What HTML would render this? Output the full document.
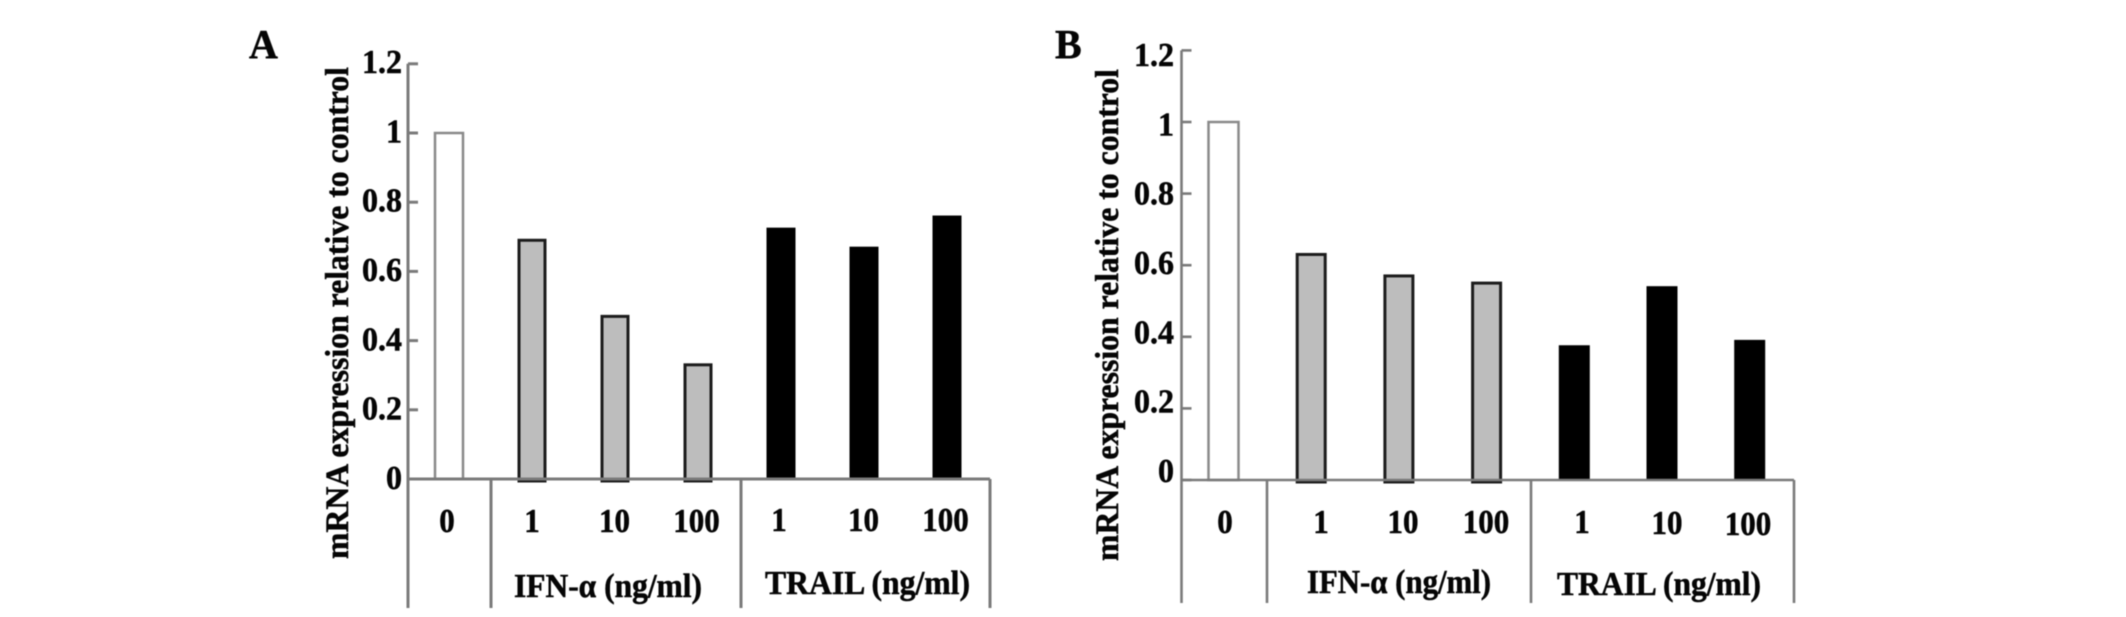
<!DOCTYPE html>
<html lang="en">
<head>
<meta charset="utf-8">
<title>mRNA expression relative to control</title>
<style>
html,body{margin:0;padding:0;background:#fff;width:2126px;height:617px;overflow:hidden}
svg{display:block;filter:blur(0.55px)}
text{font-family:"Liberation Serif",serif;font-weight:700;fill:#050505;stroke:#050505;stroke-width:0.5px}
</style>
</head>
<body>
<svg id="figure" xmlns="http://www.w3.org/2000/svg" width="2126" height="617" viewBox="0 0 2126 617"></svg>
<script>
const categories = ["0", "1", "10", "100", "1", "10", "100"];
const seriesA = [1, 0.69, 0.47, 0.33, 0.725, 0.67, 0.76];
const seriesB = [1, 0.63, 0.57, 0.55, 0.375, 0.54, 0.39];
const barKinds = ["control", "ifn", "ifn", "ifn", "trail", "trail", "trail"];
const yTicks = [0, 0.2, 0.4, 0.6, 0.8, 1, 1.2];
const yTickLabels = ["0", "0.2", "0.4", "0.6", "0.8", "1", "1.2"];
const groupLabels = ["IFN-α (ng/ml)", "TRAIL (ng/ml)"];
const yTitle = "mRNA expression relative to control";

const NS = "http://www.w3.org/2000/svg";
const root = document.getElementById("figure");

function make(tag, parent, attrs) {
  const el = document.createElementNS(NS, tag);
  for (const k in attrs) el.setAttribute(k, attrs[k]);
  parent.appendChild(el);
  return el;
}

function label(parent, str, x, y, size, anchor, length, stretch) {
  const el = make("text", parent, {
    "transform": "translate(" + x + " " + y + ") scale(1 " + stretch + ")",
    "font-size": size,
    "text-anchor": anchor
  });
  if (length) {
    el.setAttribute("textLength", length);
    el.setAttribute("lengthAdjust", "spacingAndGlyphs");
  }
  el.textContent = str;
  return el;
}

function drawPanel(p, values) {
  const g = make("g", root, {});
  
  

  const y = v => p.zeroY - v * p.unit;
  const x = i => p.x0 + i * p.step;
  const labelY = v => p.labelZero - v * 346.7;

  const letter = label(g, p.letter, p.letterX, 58, 40, "start", 0, 1.04);
  
  

  const title = make("text", g, {
    "transform": "translate(" + p.titleX + " " + p.titleBottom + ") rotate(-90)",
    "font-size": 33,
    "textLength": p.titleLen,
    "lengthAdjust": "spacingAndGlyphs"
  });
  title.textContent = yTitle;
  
  

  values.forEach((v, i) => {
    const kind = barKinds[i];
    const isGray = kind === "ifn";
    const isBlack = kind === "trail";
    const w = isGray ? p.barW - 2 : p.barW;
    const bar = make("rect", g, {
      x: x(i) - w / 2,
      y: y(v),
      width: w,
      height: y(0) - y(v) + (isGray ? 2 : 0),
      fill: isBlack ? "#000" : (isGray ? "#bdbdbd" : "#fff"),
      stroke: isBlack ? "#000" : (isGray ? "#1c1c1c" : "#8a8a8a"),
      "stroke-width": isBlack ? 1 : (isGray ? 3 : 2.5)
    });
    
    
  });

  const axisAttrs = { stroke: "#7a7a7a", "stroke-width": p.axisW, fill: "none" };
  const yAxis = make("path", g, Object.assign({ d: "M" + p.axisX + " " + y(1.2) + "V" + p.bottom }, axisAttrs));
  
  

  const xAxis = make("path", g, Object.assign({ d: "M" + p.axisX + " " + y(0) + "H" + p.right }, axisAttrs));
  
  

  [p.div1, p.div2, p.right].forEach((dx, i) => {
    const d = make("path", g, Object.assign({ d: "M" + dx + " " + y(0) + "V" + p.bottom }, axisAttrs));
    
    
  });

  yTicks.forEach((t, i) => {
    const tick = make("path", g, Object.assign({ d: "M" + p.axisX + " " + y(t) + "h10" }, axisAttrs));
    
    
    const tl = label(g, yTickLabels[i], p.tickRight, labelY(t), 32, "end", 0, 1.06);
    
    
  });

  categories.forEach((c, i) => {
    const cl = label(g, c, x(i) + p.catDx[i], p.catY[i], 31, "middle", 0, 1.1);
    
    
  });

  groupLabels.forEach((s, i) => {
    const gl = label(g, s, p.groupX[i], p.groupY[i], 31, "start", p.groupLen[i], 1.08);
    
    
  });
}

drawPanel({
  id: "a", letter: "A", letterX: 249, titleX: 348, titleBottom: 559, titleLen: 492,
  axisX: 408, axisW: 3, zeroY: 479, unit: 346, bottom: 608, right: 990, div1: 491, div2: 741,
  x0: 449, step: 83, barW: 28, tickRight: 402, labelZero: 489,
  catDx: [-2, 0, -0.5, -1.5, -2, -0.5, -1.5], catY: [532, 532, 532, 532, 531, 531, 531],
  groupX: [514, 765], groupY: [597, 594], groupLen: [188, 205]
}, seriesA);

drawPanel({
  id: "b", letter: "B", letterX: 1055, titleX: 1118, titleBottom: 561, titleLen: 492,
  axisX: 1181.5, axisW: 2.6, zeroY: 480, unit: 358, bottom: 603, right: 1794, div1: 1267, div2: 1531,
  x0: 1223.5, step: 87.7, barW: 30, tickRight: 1174, labelZero: 482,
  catDx: [1.5, 9.8, 4.1, -0.6, 7.7, 5, -1.7], catY: [533, 533, 533, 533, 533, 534, 535],
  groupX: [1307, 1557], groupY: [593, 595], groupLen: [184, 204]
}, seriesB);
</script>
</body>
</html>
